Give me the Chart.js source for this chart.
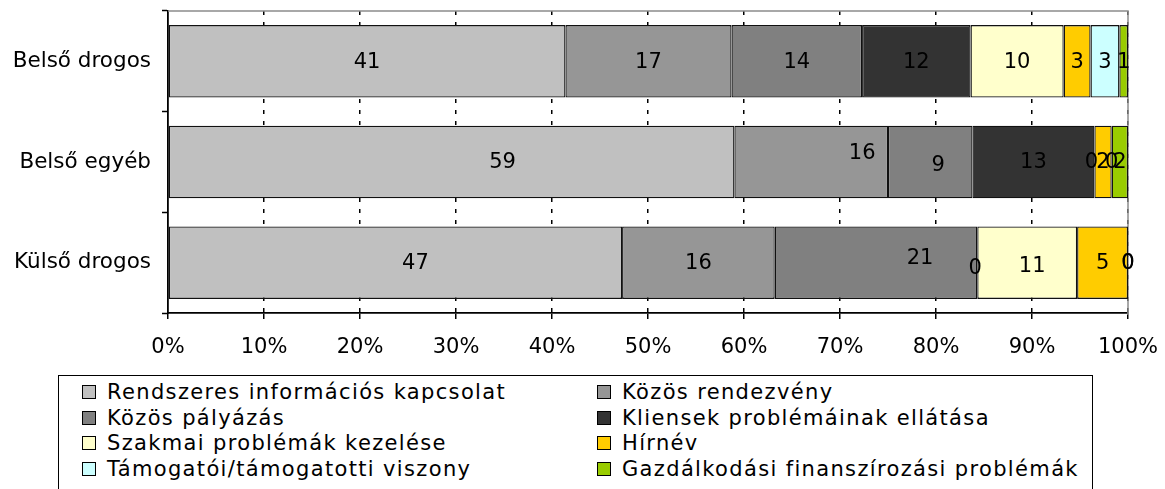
<!DOCTYPE html>
<html>
<head>
<meta charset="utf-8">
<script src="https://cdn.jsdelivr.net/npm/chart.js@4.4.0/dist/chart.umd.min.js"></script>
<style>
body{margin:0;background:#fff;width:1165px;height:489px;overflow:hidden;position:relative;font-family:"DejaVu Sans",Verdana,sans-serif}
#wrap{position:absolute;left:0;top:0;width:1165px;height:372px}
#legend{position:absolute;left:58px;top:375px;width:1035px;height:140px;border:1px solid #000;box-sizing:border-box}
.item{position:absolute;font-size:21px;line-height:25.7px;white-space:nowrap;color:#000}
.item .txt{letter-spacing:1.35px}
.box{display:inline-block;width:12px;height:12px;border:1px solid #000;margin-right:11px;vertical-align:baseline}
</style>
</head>
<body>
<div id="wrap"><canvas id="chart"></canvas></div>
<div id="legend"></div>
<script>
// categories (top to bottom)
const categories = ["Belső drogos", "Belső egyéb", "Külső drogos"];

// bar widths in % of each row
const rendszeres   = [41.4, 59.0, 47.3];
const rendezveny   = [17.3, 16.0, 15.9];
const palyazas     = [13.6, 8.8, 21.1];
const kliensek     = [11.3, 12.7, 0];
const szakmai      = [9.7, 0, 10.4];
const hirnev       = [2.8, 1.8, 5.3];
const tamogatoi    = [3.0, 0, 0];
const gazdalkodasi = [0.9, 1.7, 0];

// numbers printed on the bars
const rendszeresLbl   = [41, 59, 47];
const rendezvenyLbl   = [17, 16, 16];
const palyazasLbl     = [14, 9, 21];
const kliensekLbl     = [12, 13, 0];
const szakmaiLbl      = [10, 0, 11];
const hirnevLbl       = [3, 2, 5];
const tamogatoiLbl    = [3, 0, 0];
const gazdalkodasiLbl = [1, 2, 0];

const xTicks = [0, 10, 20, 30, 40, 50, 60, 70, 80, 90, 100];

const series = [
    {name: "Rendszeres információs kapcsolat", data: rendszeres, shown: rendszeresLbl, color: "#C0C0C0"},
    {name: "Közös rendezvény", data: rendezveny, shown: rendezvenyLbl, color: "#969696"},
    {name: "Közös pályázás", data: palyazas, shown: palyazasLbl, color: "#808080"},
    {name: "Kliensek problémáinak ellátása", data: kliensek, shown: kliensekLbl, color: "#333333"},
    {name: "Szakmai problémák kezelése", data: szakmai, shown: szakmaiLbl, color: "#FFFFCC"},
    {name: "Hírnév", data: hirnev, shown: hirnevLbl, color: "#FFCC00"},
    {name: "Támogatói/támogatotti viszony", data: tamogatoi, shown: tamogatoiLbl, color: "#CCFFFF"},
    {name: "Gazdálkodási finanszírozási problémák", data: gazdalkodasi, shown: gazdalkodasiLbl, color: "#99CC00"}
];

// labels the original author dragged off centre (dataset:row -> [dx, dy])
const labelNudge = {"0:1": [51, 0], "0:2": [20, 0], "1:1": [51, -9], "2:1": [8, 3], "2:2": [44, -5], "3:2": [-2, 5], "4:2": [5, 3], "4:1": [-3, 0]};

const FONT = "DejaVu Sans";

const valueLabels = {
    id: "valueLabels",
    afterDatasetsDraw(chart){
        const ctx = chart.ctx;
        ctx.save();
        ctx.font = "21px '" + FONT + "'";
        ctx.fillStyle = "#000";
        ctx.textAlign = "center";
        ctx.textBaseline = "middle";
        chart.data.datasets.forEach((ds, i) => {
            chart.getDatasetMeta(i).data.forEach((bar, j) => {
                const n = labelNudge[i + ":" + j] || [0, 0];
                ctx.fillText(String(ds.shown[j]), (bar.x + bar.base) / 2 + n[0], bar.y + n[1] + 1);
            });
        });
        ctx.restore();
    }
};

const plotFrame = {
    id: "plotFrame",
    beforeDatasetsDraw(chart){
        const a = chart.chartArea, ctx = chart.ctx;
        ctx.save();
        ctx.strokeStyle = "#8c8c8c";
        ctx.lineWidth = 1.5;
        ctx.beginPath();
        ctx.moveTo(a.left, a.top);
        ctx.lineTo(a.right, a.top);
        ctx.lineTo(a.right, a.bottom + 2);
        ctx.stroke();
        ctx.restore();
    }
};

new Chart("chart", {
    type: "bar",
    data: {
        labels: categories,
        datasets: series.map(s => ({
            label: s.name,
            data: s.data,
            shown: s.shown,
            backgroundColor: s.color,
            borderColor: "#111",
            borderWidth: 1.3,
            borderSkipped: false,
            barPercentage: 0.72,
            categoryPercentage: 1
        }))
    },
    options: {
        indexAxis: "y",
        responsive: true,
        maintainAspectRatio: false,
        animation: false,
        layout: {padding: {top: 11, right: 37, left: 0, bottom: 0}},
        plugins: {legend: {display: false}, tooltip: {enabled: false}},
        scales: {
            x: {
                stacked: true,
                min: 0, max: 100,
                afterBuildTicks: (s) => { s.ticks = xTicks.map(v => ({value: v})); },
                afterFit: (s) => { s.height = 59; s.paddingLeft = 0; s.paddingRight = 0; },
                grid: {
                    color: (c) => c.index === 0 ? "rgba(0,0,0,0)" : "#000",
                    lineWidth: 1.5,
                    tickColor: "#000",
                    tickLength: 6,
                    tickWidth: 1.5
                },
                border: {display: true, color: "#000", width: 1.8, dash: [4, 7]},
                ticks: {
                    color: "#000",
                    padding: 16,
                    maxRotation: 0,
                    font: {family: FONT, size: 21},
                    callback: (v) => v + "%"
                }
            },
            y: {
                stacked: true,
                afterFit: (s) => { s.width = 168; s.paddingTop = 0; s.paddingBottom = 0; },
                grid: {
                    offset: true,
                    drawOnChartArea: false,
                    tickColor: "#000",
                    tickLength: 6,
                    tickWidth: 1.5
                },
                border: {display: true, color: "#000", width: 1.8},
                ticks: {
                    color: "#000",
                    padding: 11,
                    font: {family: FONT, size: 21.5}
                }
            }
        }
    },
    plugins: [plotFrame, valueLabels]
});

// legend box, two columns
const legend = document.getElementById("legend");
series.forEach((s, i) => {
    const col = i % 2, row = Math.floor(i / 2);
    const el = document.createElement("div");
    el.className = "item";
    el.style.left = (col ? 538 : 23) + "px";
    el.style.top = (4 + row * 25.7) + "px";
    el.innerHTML = '<span class="box" style="background:' + s.color + '"></span><span class="txt">' + s.name + '</span>';
    legend.appendChild(el);
});
</script>
</body>
</html>
